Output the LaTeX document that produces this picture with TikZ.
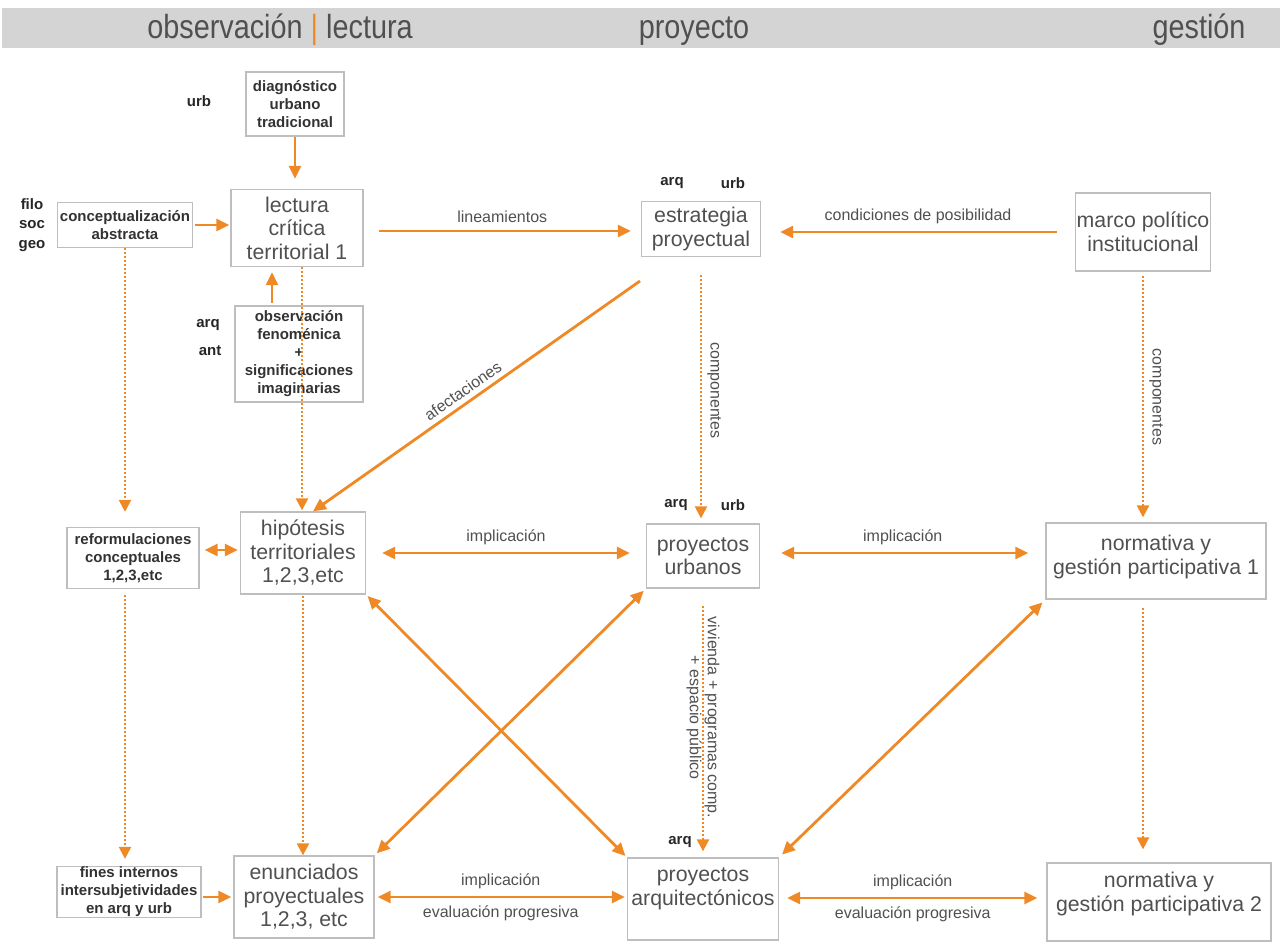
\documentclass[tikz,border=0pt]{standalone}
\usepackage{fontspec}
\setmainfont{Liberation Sans}
\newfontfamily\headfont[FakeStretch=0.86]{Liberation Sans}
\usetikzlibrary{arrows.meta}
\definecolor{orangeline}{RGB}{239,137,38}
\definecolor{boxgray}{RGB}{190,190,190}
\definecolor{bandgray}{RGB}{212,212,212}
\definecolor{textgray}{RGB}{80,80,80}
\definecolor{darktext}{RGB}{50,50,50}

\begin{document}
\begin{tikzpicture}[x=1pt, y=-1pt,
    box/.style={draw=boxgray, line width=1.3pt, inner sep=0pt, align=center},
    bigtext/.style={text=textgray, align=center, font=\fontsize{21.3}{23.5}\selectfont},
    smalltext/.style={text=darktext, align=center, font=\bfseries\fontsize{15}{18}\selectfont},
    tagtext/.style={text=black!85, align=center, font=\bfseries\fontsize{15}{19.5}\selectfont},
    headtext/.style={text=textgray, anchor=base, font=\headfont\fontsize{33.5}{36}\selectfont},
    arrowlabel/.style={text=textgray, font=\fontsize{16}{18}\selectfont, inner sep=3pt},
    flow/.style={orangeline, line width=2.8pt, -{Triangle[length=13pt,width=12pt]}},
    twoway/.style={flow, {Triangle[length=13pt,width=12pt]}-{Triangle[length=13pt,width=12pt]}},
    dotflow/.style={orangeline, line width=2.4pt, dash pattern=on 2pt off 2pt,
                    -{Triangle[length=12pt,width=12pt]}}]
  \useasboundingbox (0,0) rectangle (1280,944);

  % header band
  \fill[bandgray] (2,8) rectangle (1280,48);
  \node[headtext] (hobs) at (280,39) {observación {\color{orangeline}|} lectura};
  \node[headtext] (hproy) at (694,39) {proyecto};
  \node[headtext] (hgest) at (1199,39) {gestión};

  % observación | lectura
  \node[box, smalltext, minimum width=98pt, minimum height=64pt] (diag) at (295,104) {diagnóstico\\urbano\\tradicional};
  \node[tagtext] (urbA) at (199,101) {urb};
  \node[box, smalltext, minimum width=135pt, minimum height=45pt] (concept) at (125,225) {conceptualización\\abstracta};
  \node[tagtext] (filo) at (32,225) {filo\\soc\\geo};
  \node[box, bigtext, minimum width=132pt, minimum height=77pt] (lectura) at (297,228) {lectura\\crítica\\territorial 1};
  \node[box, smalltext, minimum width=128pt, minimum height=96pt] (observ) at (299,354) {observación\\fenoménica\\+\\significaciones\\imaginarias};
  \node[tagtext] (arqA) at (208,325) {arq};
  \node[tagtext] (antA) at (210,351) {ant};
  \node[box, smalltext, minimum width=132pt, minimum height=61pt] (reform) at (133,558) {reformulaciones\\conceptuales\\1,2,3,etc};
  \node[box, bigtext, minimum width=125pt, minimum height=82pt] (hipo) at (303,553) {hipótesis\\territoriales\\1,2,3,etc};
  \node[box, smalltext, minimum width=144pt, minimum height=51pt] (fines) at (129,892) {fines internos\\intersubjetividades\\en arq y urb};
  \node[box, bigtext, minimum width=140pt, minimum height=82pt] (enun) at (304,897) {enunciados\\proyectuales\\1,2,3, etc};

  % proyecto
  \node[box, bigtext, minimum width=119pt, minimum height=55pt] (estrat) at (701,229) {estrategia\\proyectual};
  \node[tagtext] (arqB) at (672,183) {arq};
  \node[tagtext] (urbB) at (733,183) {urb};
  \node[box, bigtext, minimum width=113pt, minimum height=64pt] (purb) at (703,556) {proyectos\\urbanos};
  \node[tagtext] (arqC) at (676,505) {arq};
  \node[tagtext] (urbC) at (733,505) {urb};
  \node[box, minimum width=151pt, minimum height=82pt] (parq) at (703,899) {};
  \node[bigtext] (parqtext) at (703,889) {proyectos\\arquitectónicos};
  \node[tagtext] (arqD) at (680,842) {arq};

  % gestión
  \node[box, bigtext, minimum width=135pt, minimum height=78pt] (marco) at (1143,232) {marco político\\institucional};
  \node[box, minimum width=220pt, minimum height=76pt] (norm1) at (1156,561) {};
  \node[bigtext] (norm1text) at (1156,557) {normativa y\\gestión participativa 1};
  \node[box, minimum width=224pt, minimum height=78pt] (norm2) at (1159,902) {};
  \node[bigtext] (norm2text) at (1159,894) {normativa y\\gestión participativa 2};

  % solid arrows
  \draw[flow, shorten >=10pt] (diag.south) -- (diag.south |- lectura.north);
  \draw[flow, shorten <=2pt, shorten >=1pt] (concept.east) -- (concept.east -| lectura.west);
  \draw[flow, shorten <=2pt, shorten >=5pt] ([xshift=-27pt]observ.north) -- ([xshift=-27pt]observ.north |- lectura.south);
  \draw[flow, shorten <=15pt, shorten >=10pt] ([yshift=-3pt]lectura.east) -- ([yshift=-3pt]lectura.east -| estrat.west)
    node[arrowlabel, midway, above=4pt] {lineamientos};
  \draw[flow, shorten <=18pt, shorten >=19pt] (marco.west) -- (marco.west -| estrat.east)
    node[arrowlabel, midway, above=4pt] {condiciones de posibilidad};
  \coordinate (afstart) at (640,281);
  \draw[flow] (afstart) -- ([xshift=10pt]hipo.north)
    node[arrowlabel, pos=0.52, sloped, above=2pt] {afectaciones};

  % two-way arrows
  \draw[twoway, shorten <=5pt, shorten >=2pt] ([yshift=3pt]hipo.west -| reform.east) -- ([yshift=3pt]hipo.west);
  \draw[twoway, shorten <=16pt, shorten >=16pt] (hipo.east) -- (hipo.east -| purb.west)
    node[arrowlabel, midway, above=4pt] {implicación};
  \draw[twoway, shorten <=21pt, shorten >=17pt] ([yshift=3pt]purb.east) -- ([yshift=3pt]purb.east -| norm1.west)
    node[arrowlabel, midway, above=4pt] {implicación};
  \draw[flow, shorten <=1pt, shorten >=2pt] ([yshift=-5pt]fines.east) -- ([yshift=-5pt]fines.east -| enun.west);
  \draw[twoway, shorten <=3pt, shorten >=2pt] (enun.east) -- (enun.east -| parq.west)
    node[arrowlabel, midway, above=4pt] {implicación}
    node[arrowlabel, midway, below=4pt] {evaluación progresiva};
  \draw[twoway, shorten <=8pt, shorten >=9pt] ([yshift=1pt]parq.east) -- ([yshift=1pt]parq.east -| norm2.west)
    node[arrowlabel, midway, above=4pt] {implicación}
    node[arrowlabel, midway, below=4pt] {evaluación progresiva};

  % crossing arrows
  \draw[twoway, shorten <=2pt, shorten >=2pt] (hipo.south east) -- (parq.north west);
  \draw[twoway, shorten <=3pt, shorten >=3pt] (purb.south west) -- (enun.north east);
  \draw[twoway, shorten <=4pt, shorten >=4pt] (norm1.south west) -- (parq.north east);

  % dotted arrows
  \draw[dotflow, shorten >=15pt] (concept.south) -- (concept.south |- reform.north);
  \draw[dotflow, shorten <=6pt, shorten >=7pt] (concept.south |- reform.south) -- (concept.south |- fines.north);
  \draw[dotflow, shorten >=1pt] ([xshift=5pt]lectura.south) -- ([xshift=5pt]lectura.south |- hipo.north);
  \draw[dotflow, shorten <=1pt] (hipo.south) -- (hipo.south |- enun.north);
  \draw[dotflow, shorten <=18pt, shorten >=5pt] (estrat.south) -- (estrat.south |- purb.north)
    node[arrowlabel, midway, rotate=-90, anchor=south, inner sep=5pt] {componentes};
  \draw[dotflow, shorten <=17pt, shorten >=6pt] (purb.south) -- (purb.south |- parq.north)
    node[arrowlabel, pos=0.48, rotate=-90, align=center] {vivienda + programas comp.\\+ espacio público};
  \draw[dotflow, shorten <=4pt, shorten >=5pt] (marco.south) -- (marco.south |- norm1.north)
    node[arrowlabel, midway, rotate=-90, anchor=south, inner sep=5pt] {componentes};
  \draw[dotflow, shorten <=8pt, shorten >=13pt] (marco.south |- norm1.south) -- (marco.south |- norm2.north);
\end{tikzpicture}
\end{document}
